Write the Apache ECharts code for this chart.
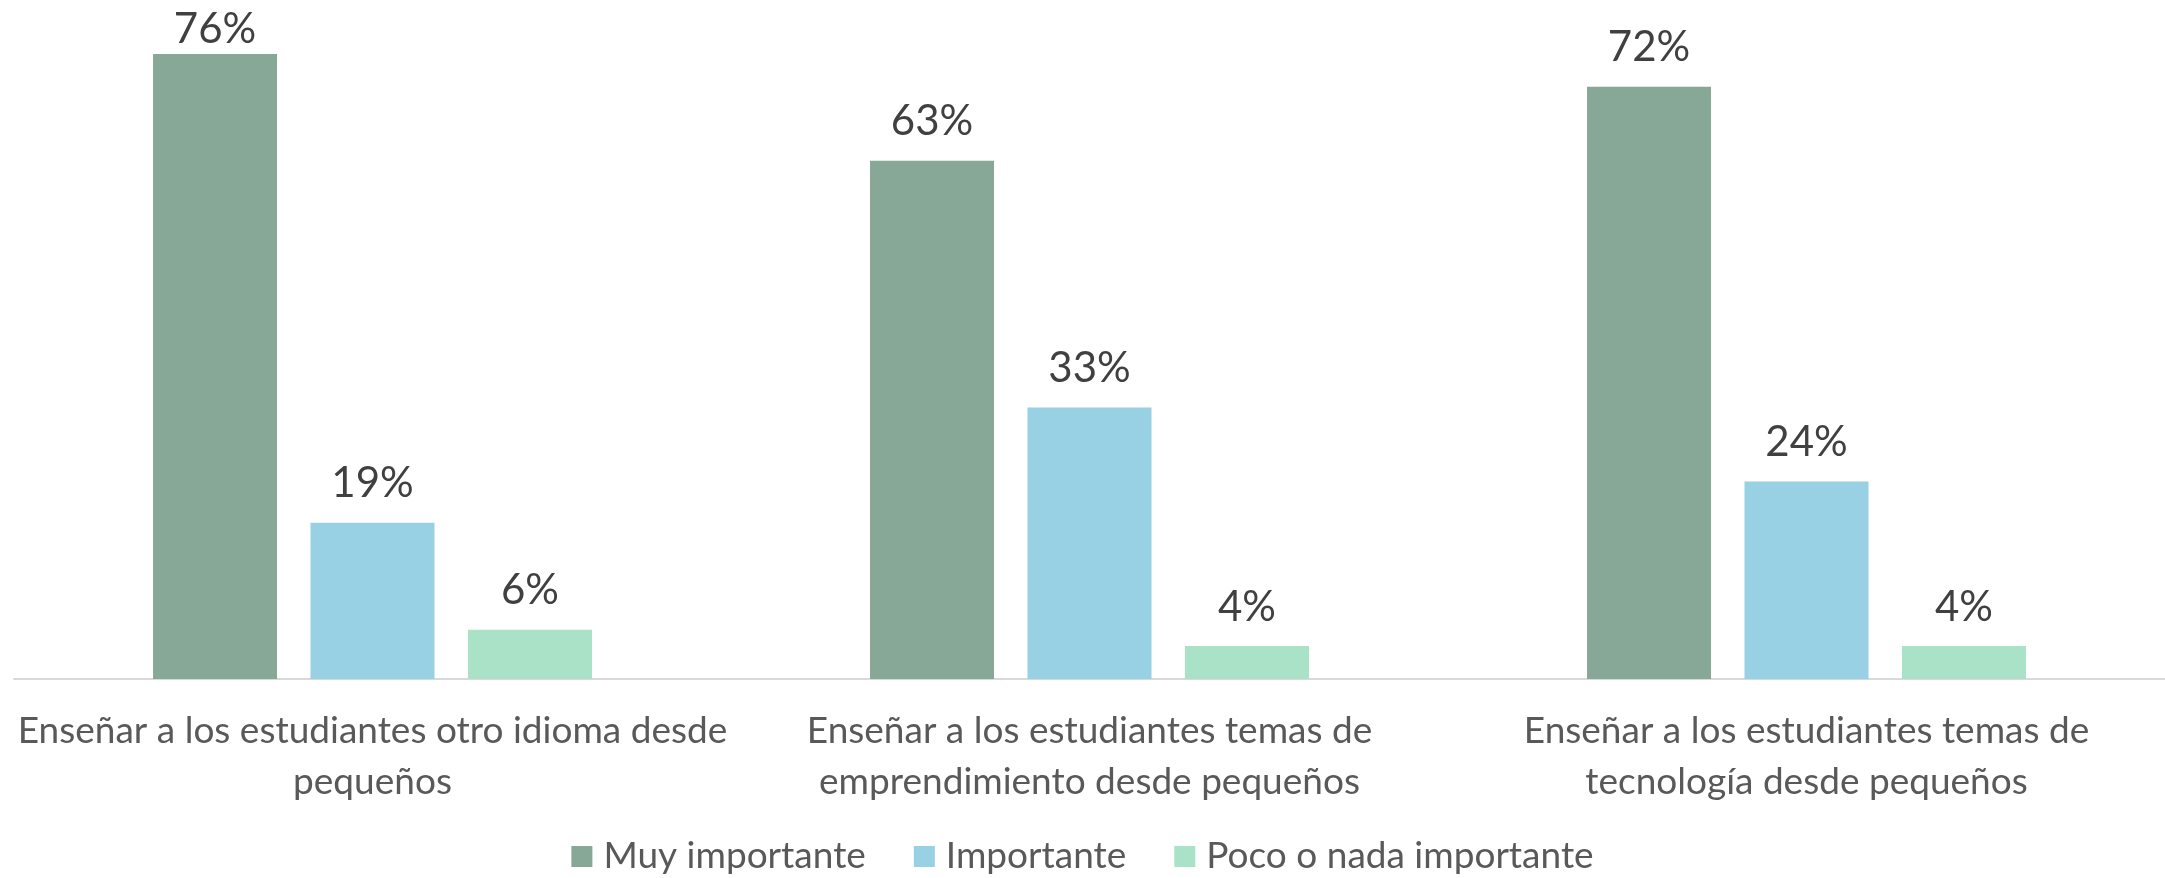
<!DOCTYPE html>
<html lang="es">
<head>
    <meta charset="UTF-8">
    <title>Importancia</title>
    <style>
        html, body { margin: 0; padding: 0; background: #fff; }
        #main { width: 2165px; height: 878px; }
    </style>
    <script src="https://cdn.jsdelivr.net/npm/echarts@6/dist/echarts.min.js"></script>
</head>
<body>
<div id="main"></div>
<script>
    // categorias del eje X (con salto de linea como en el original)
    var categorias = [
        'Enseñar a los estudiantes otro idioma desde\npequeños',
        'Enseñar a los estudiantes temas de\nemprendimiento desde pequeños',
        'Enseñar a los estudiantes temas de\ntecnología desde pequeños'
    ];
    var series_nombres = ['Muy importante', 'Importante', 'Poco o nada importante'];
    var muyImportante = [76, 63, 72];
    var importante = [19, 33, 24];
    var pocoONada = [6, 4, 4];

    var colores = ['#88a897', '#97d1e3', '#a9e2c6'];
    var fuente = 'Lato';

    var myChart = echarts.init(document.getElementById('main'));

    function serie(nombre, datos, i) {
        return {
            name: nombre,
            type: 'bar',
            // la etiqueta mas alta va pegada a la barra para no salirse del lienzo
            data: datos.map(function (v) {
                return v >= 75 ? { value: v, label: { distance: 3 } } : v;
            }),
            barWidth: 124,
            barGap: '27%',
            itemStyle: { color: colores[i] },
            label: {
                show: true,
                position: 'top',
                distance: 18,
                formatter: '{c}%',
                color: '#404040',
                fontFamily: fuente,
                fontSize: 42
            }
        };
    }

    var option = {
        animation: false,
        backgroundColor: '#ffffff',
        grid: { left: 14, right: 0, top: 21, bottom: 199 },
        legend: {
            data: series_nombres,
            top: 833,
            left: 'center',
            itemWidth: 21,
            itemHeight: 21,
            itemGap: 48,
            icon: 'rect',
            textStyle: {
                color: '#595959',
                fontFamily: fuente,
                fontSize: 37,
                padding: [0, 0, 0, 6]
            }
        },
        xAxis: {
            type: 'category',
            data: categorias,
            axisTick: { show: false },
            axisLine: { lineStyle: { color: '#d9d9d9', width: 2 } },
            axisLabel: {
                interval: 0,
                margin: 27,
                color: '#595959',
                fontFamily: fuente,
                fontSize: 37,
                lineHeight: 51
            }
        },
        yAxis: {
            type: 'value',
            min: 0,
            max: 80,
            show: false,
            splitLine: { show: false }
        },
        series: [
            serie(series_nombres[0], muyImportante, 0),
            serie(series_nombres[1], importante, 1),
            serie(series_nombres[2], pocoONada, 2)
        ]
    };

    myChart.setOption(option);
</script>
</body>
</html>
